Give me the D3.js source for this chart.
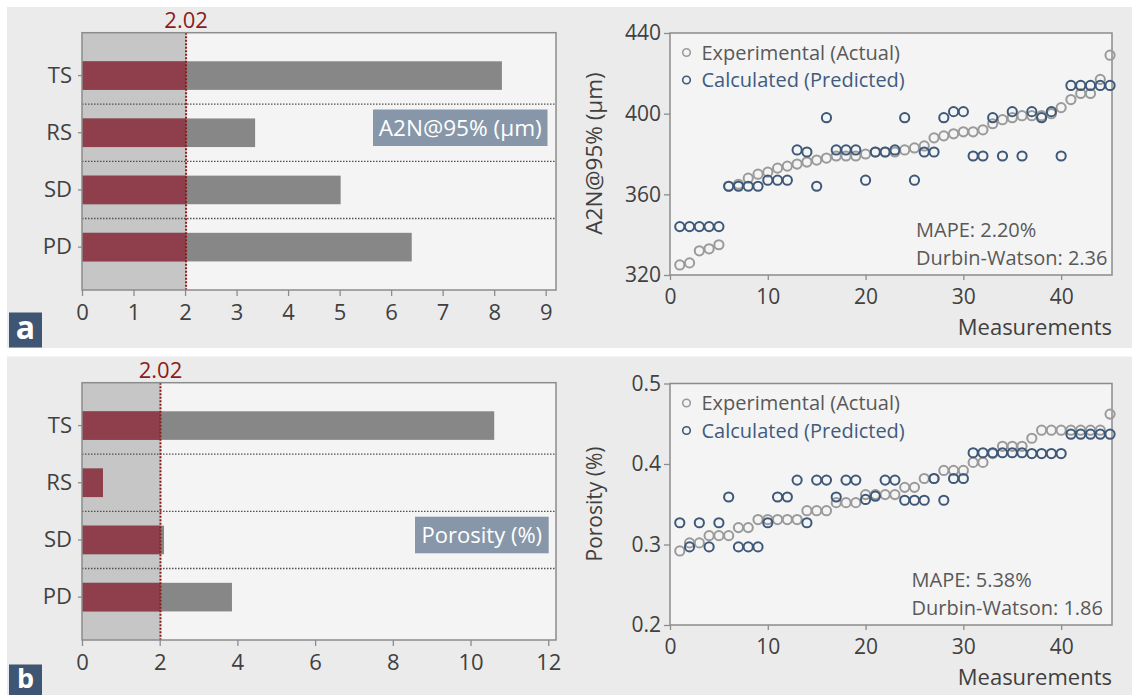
<!DOCTYPE html>
<html>
<head>
<meta charset="utf-8">
<script src="https://cdn.jsdelivr.net/npm/d3@7"></script>
<style>
html,body{margin:0;padding:0;background:#fff;}
svg{display:block;font-family:"Open Sans",sans-serif;}
</style>
</head>
<body>
<svg id="chart" width="1132" height="695"></svg>
<script>
// ---------------- data ----------------
const categories = ["TS", "RS", "SD", "PD"];
const a2nEffects = [8.15, 3.36, 5.02, 6.40];
const porosityEffects = [10.61, 0.54, 2.11, 3.86];
const threshold = 2.02;
const a2nTicks = [0, 1, 2, 3, 4, 5, 6, 7, 8, 9];
const porosityEffectTicks = [0, 2, 4, 6, 8, 10, 12];

const measurements = [1,2,3,4,5,6,7,8,9,10,11,12,13,14,15,16,17,18,19,20,21,22,23,24,25,26,27,28,29,30,31,32,33,34,35,36,37,38,39,40,41,42,43,44,45];
const a2nActual = [325,326,332,333,335,364,365,368,370,371,373,374,375,376,377,378,379,379,379,380,381,381,381,382,383,384,388,389,390,391,391,392,395,397,398,399,399,399,400,403,407,410,410,417,429];
const a2nPredicted = [344,344,344,344,344,364,364,364,364,367,367,367,382,381,364,398,382,382,382,367,381,381,382,398,367,381,381,398,401,401,379,379,398,379,401,379,401,398,401,379,414,414,414,414,414];
const porosityActual = [0.292,0.302,0.302,0.311,0.311,0.311,0.321,0.321,0.331,0.331,0.331,0.331,0.331,0.342,0.342,0.342,0.352,0.352,0.352,0.362,0.362,0.362,0.362,0.371,0.371,0.382,0.382,0.392,0.392,0.392,0.402,0.402,0.413,0.422,0.422,0.422,0.432,0.442,0.442,0.442,0.442,0.442,0.442,0.442,0.462];
const porosityPredicted = [0.327,0.297,0.327,0.297,0.327,0.359,0.297,0.297,0.297,0.327,0.359,0.359,0.380,0.327,0.380,0.380,0.359,0.380,0.380,0.356,0.360,0.380,0.380,0.355,0.355,0.355,0.382,0.355,0.382,0.382,0.414,0.414,0.414,0.414,0.414,0.414,0.413,0.413,0.413,0.413,0.437,0.437,0.437,0.437,0.437];
const a2nYTicks = [320, 360, 400, 440];
const porosityYTicks = [0.2, 0.3, 0.4, 0.5];
const measTicks = [0, 10, 20, 30, 40];

// ---------------- style ----------------
const C = {
  panel: "#ebebeb", plot: "#f4f4f4", shade: "#c6c6c6", border: "#8c8c8c",
  red: "#8f3f4b", grayBar: "#878787", thr: "#8b1c1c", text: "#404040",
  annot: "#8797a9", tag: "#3e5573", gray: "#9a9a9a", blue: "#3d5878",
  legGray: "#595959", legBlue: "#3f5b7e"
};
const svg = d3.select("#chart");

// panel backgrounds
svg.append("rect").attr("x", 7).attr("y", 7).attr("width", 1125).attr("height", 341).attr("fill", C.panel);
svg.append("rect").attr("x", 7).attr("y", 356.5).attr("width", 1125).attr("height", 340).attr("fill", C.panel);

function styleAxis(g, fs) {
  g.select(".domain").remove();
  g.selectAll(".tick line").attr("stroke", C.border).attr("stroke-width", 1.3);
  g.selectAll(".tick text").attr("fill", C.text).attr("font-size", fs).attr("font-family", "Open Sans");
}

// ---------------- bar panel ----------------
function barPanel(o) {
  const x = d3.scaleLinear().domain([0, o.xmax]).range([o.left, o.right]);
  const y = d3.scaleBand().domain(categories).range([o.top, o.bottom]).paddingInner(0.5).paddingOuter(0.5);
  const g = svg.append("g");
  g.append("rect").attr("x", o.left).attr("y", o.top).attr("width", o.right - o.left).attr("height", o.bottom - o.top).attr("fill", C.plot);
  g.append("rect").attr("x", x(0)).attr("y", o.top).attr("width", x(threshold) - x(0)).attr("height", o.bottom - o.top).attr("fill", C.shade);
  // separators
  const sepData = categories.slice(1);
  g.selectAll("line.sep").data(sepData).enter().append("line")
    .attr("x1", o.left).attr("x2", o.right)
    .attr("y1", d => y(d) - y.step() * y.paddingInner() / 2)
    .attr("y2", d => y(d) - y.step() * y.paddingInner() / 2)
    .attr("stroke", "#505050").attr("stroke-width", 1.4).attr("stroke-dasharray", "1.5,1.5");
  // bars: gray full, red up to threshold
  const data = categories.map((c, i) => ({ c, v: o.values[i] }));
  g.selectAll("rect.gb").data(data).enter().append("rect")
    .attr("x", x(0)).attr("y", d => y(d.c)).attr("height", y.bandwidth())
    .attr("width", d => x(d.v) - x(0)).attr("fill", C.grayBar);
  g.selectAll("rect.rb").data(data).enter().append("rect")
    .attr("x", x(0)).attr("y", d => y(d.c)).attr("height", y.bandwidth())
    .attr("width", d => x(Math.min(d.v, threshold)) - x(0)).attr("fill", C.red);
  // threshold line
  g.append("line").attr("x1", x(threshold)).attr("x2", x(threshold)).attr("y1", o.top).attr("y2", o.bottom)
    .attr("stroke", C.thr).attr("stroke-width", 2).attr("stroke-dasharray", "2,1.5");
  g.append("text").attr("x", x(threshold)).attr("y", o.top - 5).attr("text-anchor", "middle")
    .attr("fill", C.thr).attr("font-size", 22).text(threshold.toFixed(2));
  // border
  g.append("rect").attr("x", o.left).attr("y", o.top).attr("width", o.right - o.left).attr("height", o.bottom - o.top)
    .attr("fill", "none").attr("stroke", C.border).attr("stroke-width", 1.5);
  // axes
  const xa = g.append("g").attr("transform", `translate(0,${o.bottom})`)
    .call(d3.axisBottom(x).tickValues(o.ticks).tickFormat(d3.format("d")).tickSize(6).tickPadding(8));
  styleAxis(xa, 22);
  const ya = g.append("g").attr("transform", `translate(${o.left},0)`)
    .call(d3.axisLeft(y).tickSize(4).tickPadding(6));
  styleAxis(ya, 22);
  // annotation box
  const ab = o.annot;
  g.append("rect").attr("x", ab.x).attr("y", ab.y).attr("width", ab.w).attr("height", ab.h).attr("fill", C.annot);
  g.append("text").attr("x", ab.x + ab.w / 2).attr("y", ab.y + ab.h / 2).attr("dy", "0.36em")
    .attr("text-anchor", "middle").attr("fill", "#fff").attr("font-size", ab.fs).text(ab.label);
  // panel tag
  g.append("rect").attr("x", 9).attr("y", o.tagY).attr("width", 33).attr("height", o.tagH).attr("fill", C.tag);
  g.append("text").attr("x", 25.5).attr("y", o.tagBase).attr("text-anchor", "middle")
    .attr("fill", "#fff").attr("font-size", o.tagFs).attr("font-weight", "bold").text(o.tag);
}

barPanel({ left: 82, right: 556, top: 32.7, bottom: 290, xmax: 9.2, values: a2nEffects, ticks: a2nTicks,
  annot: { x: 373, y: 109.5, w: 174.5, h: 36.5, label: "A2N@95% (μm)", fs: 22.6 },
  tag: "a", tagY: 312.5, tagH: 35, tagBase: 338.5, tagFs: 32 });
barPanel({ left: 82, right: 556, top: 382.7, bottom: 640, xmax: 12.2, values: porosityEffects, ticks: porosityEffectTicks,
  annot: { x: 415, y: 516.7, w: 133.7, h: 36.6, label: "Porosity (%)", fs: 22 },
  tag: "b", tagY: 664.5, tagH: 31, tagBase: 687.5, tagFs: 27 });

// ---------------- scatter panel ----------------
function scatterPanel(o) {
  const x = d3.scaleLinear().domain([0, 45.2]).range([o.left, o.right]);
  const y = d3.scaleLinear().domain(o.ydom).range([o.bottom, o.top]);
  const g = svg.append("g");
  g.append("rect").attr("x", o.left).attr("y", o.top).attr("width", o.right - o.left).attr("height", o.bottom - o.top)
    .attr("fill", C.plot).attr("stroke", C.border).attr("stroke-width", 1.5);
  const xa = g.append("g").attr("transform", `translate(0,${o.bottom})`)
    .call(d3.axisBottom(x).tickValues(measTicks).tickFormat(d3.format("d")).tickSize(5).tickPadding(9));
  styleAxis(xa, 21);
  const ya = g.append("g").attr("transform", `translate(${o.left},0)`)
    .call(d3.axisLeft(y).tickValues(o.yticks).tickFormat(o.yfmt).tickSize(6).tickPadding(3));
  styleAxis(ya, 21);
  g.append("text").attr("x", o.right).attr("y", o.bottom + 52).attr("dy", "0.36em").attr("text-anchor", "end")
    .attr("fill", C.text).attr("font-size", 22).text("Measurements");
  g.append("text").attr("transform", `translate(${594},${o.ytitleY}) rotate(-90)`)
    .attr("dy", "0.36em").attr("text-anchor", "middle").attr("fill", C.text).attr("font-size", o.ytitleFs).text(o.ytitle);
  const act = measurements.map((m, i) => ({ m, v: o.actual[i] }));
  const pred = measurements.map((m, i) => ({ m, v: o.pred[i] }));
  g.selectAll("circle.a").data(act).enter().append("circle")
    .attr("cx", d => x(d.m)).attr("cy", d => y(d.v)).attr("r", 4.6)
    .attr("fill", "none").attr("stroke", C.gray).attr("stroke-width", 2);
  g.selectAll("circle.p").data(pred).enter().append("circle")
    .attr("cx", d => x(d.m)).attr("cy", d => y(d.v)).attr("r", 4.6)
    .attr("fill", "none").attr("stroke", C.blue).attr("stroke-width", 2);
  // legend
  const leg = [{ t: "Experimental (Actual)", c: C.gray, tc: C.legGray }, { t: "Calculated (Predicted)", c: C.blue, tc: C.legBlue }];
  leg.forEach((l, i) => {
    const ly = o.top + 19.5 + i * 27.5;
    g.append("circle").attr("cx", 686.5).attr("cy", ly).attr("r", 3.8).attr("fill", "none").attr("stroke", l.c).attr("stroke-width", 1.6);
    g.append("text").attr("x", 701.5).attr("y", ly).attr("dy", "0.36em").attr("fill", l.tc).attr("font-size", 20).text(l.t);
  });
  o.stats.forEach((s, i) => {
    g.append("text").attr("x", o.statX).attr("y", o.statY + i * 27.5).attr("dy", "0.36em")
      .attr("fill", "#595959").attr("font-size", 20).text(s);
  });
}

scatterPanel({ left: 670, right: 1112, top: 33, bottom: 275, ydom: [320, 440], yticks: a2nYTicks, yfmt: d3.format("d"),
  ytitle: "A2N@95% (μm)", ytitleY: 153.5, ytitleFs: 22.5, actual: a2nActual, pred: a2nPredicted,
  stats: ["MAPE: 2.20%", "Durbin-Watson: 2.36"], statX: 916, statY: 230 });
scatterPanel({ left: 670, right: 1112, top: 383.5, bottom: 625, ydom: [0.2, 0.5], yticks: porosityYTicks, yfmt: d3.format(".1f"),
  ytitle: "Porosity (%)", ytitleY: 504, ytitleFs: 21, actual: porosityActual, pred: porosityPredicted,
  stats: ["MAPE: 5.38%", "Durbin-Watson: 1.86"], statX: 911.5, statY: 580 });
</script>
</body>
</html>
